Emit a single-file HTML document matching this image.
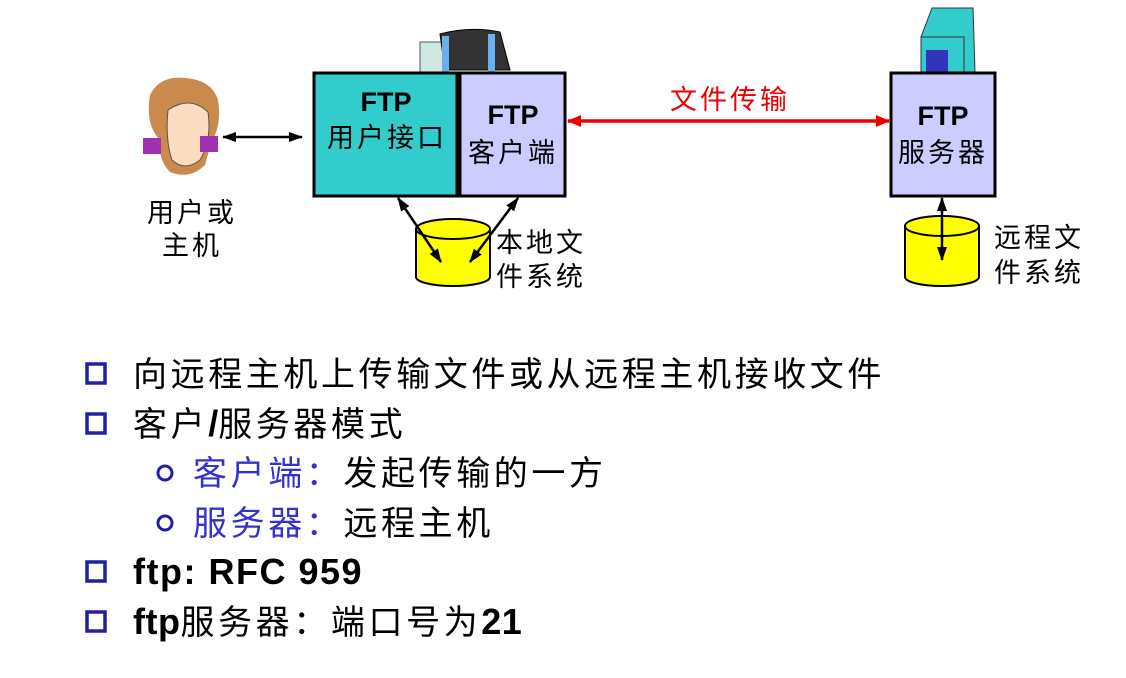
<!DOCTYPE html>
<html><head><meta charset="utf-8"><style>
html,body{margin:0;padding:0;background:#fff;width:1126px;height:678px;overflow:hidden}
svg{display:block}
text{font-family:"Liberation Sans","Noto Sans CJK SC",sans-serif}
</style></head><body>
<svg width="1126" height="678" viewBox="0 0 1126 678" xmlns="http://www.w3.org/2000/svg">
<defs>
<marker id="ak" markerWidth="14" markerHeight="10" refX="13" refY="5" orient="auto-start-reverse" markerUnits="userSpaceOnUse"><path d="M0,0 L14,5 L0,10 z" fill="#000"/></marker>
<marker id="ar" markerWidth="14" markerHeight="12" refX="13" refY="6" orient="auto-start-reverse" markerUnits="userSpaceOnUse"><path d="M0,0 L14,6 L0,12 z" fill="#e00"/></marker>
</defs>
<!-- person -->
<g>
<path d="M150,95 Q160,75 185,78 Q212,80 218,100 Q222,125 212,140 L205,165 Q190,180 170,172 Q158,160 160,140 Q145,125 150,95z" fill="#c98a4b"/>
<path d="M168,110 Q190,95 208,112 Q212,140 200,160 Q185,172 172,160 Q165,140 168,110z" fill="#fbdcc0" stroke="#555" stroke-width="1"/>
<rect x="143" y="138" width="18" height="16" fill="#a030b0"/>
<rect x="200" y="136" width="18" height="16" fill="#a030b0"/>
</g>
<text x="147" y="222" font-size="27" letter-spacing="3">用户或</text>
<text x="162" y="255" font-size="27" letter-spacing="3">主机</text>
<line x1="223" y1="137" x2="302" y2="137" stroke="#000" stroke-width="2.5" marker-start="url(#ak)" marker-end="url(#ak)"/>
<!-- monitor -->
<rect x="420" y="42" width="24" height="32" fill="#cfe8e0" stroke="#557" stroke-width="1"/>
<path d="M440,34 Q470,26 500,32 L510,70 L445,70 z" fill="#333" stroke="#000"/>
<rect x="442" y="36" width="7" height="36" fill="#6ab0f0"/>
<rect x="488" y="34" width="7" height="38" fill="#6ab0f0"/>
<!-- boxes -->
<rect x="314" y="73" width="143" height="123" fill="#33cccc" stroke="#000" stroke-width="3"/>
<rect x="460" y="73" width="105" height="123" fill="#ccccff" stroke="#000" stroke-width="3"/>
<text x="386" y="111" font-size="27" text-anchor="middle" font-weight="bold">FTP</text>
<text x="327" y="147" font-size="27" letter-spacing="3">用户接口</text>
<text x="513" y="124" font-size="27" text-anchor="middle" font-weight="bold">FTP</text>
<text x="468" y="162" font-size="27" letter-spacing="3">客户端</text>
<!-- server tower -->
<path d="M921,37 L932,8 L973,8 L975,72 L964,72 L964,37 z" fill="#33cccc" stroke="#333"/>
<rect x="921" y="37" width="43" height="35" fill="#33cccc" stroke="#333"/>
<rect x="926" y="50" width="22" height="22" fill="#3333bb"/>
<rect x="891" y="73" width="104" height="123" fill="#ccccff" stroke="#000" stroke-width="3"/>
<text x="943" y="125" font-size="27" text-anchor="middle" font-weight="bold">FTP</text>
<text x="898" y="162" font-size="27" letter-spacing="3">服务器</text>
<!-- red arrow -->
<line x1="568" y1="121" x2="889" y2="121" stroke="#e00" stroke-width="3.5" marker-start="url(#ar)" marker-end="url(#ar)"/>
<text x="670" y="109" font-size="27" fill="#e00" letter-spacing="3">文件传输</text>
<!-- local cylinder -->
<path d="M416,229 L416,277 A37,9 0 0 0 490,277 L490,229" fill="#ffff00" stroke="#000" stroke-width="2"/>
<ellipse cx="453" cy="229" rx="37" ry="10" fill="#ffff00" stroke="#000" stroke-width="2"/>
<line x1="398" y1="198" x2="441" y2="262" stroke="#000" stroke-width="2.5" marker-start="url(#ak)" marker-end="url(#ak)"/>
<line x1="518" y1="198" x2="470" y2="262" stroke="#000" stroke-width="2.5" marker-start="url(#ak)" marker-end="url(#ak)"/>
<text x="496" y="252" font-size="27" letter-spacing="3">本地文</text>
<text x="496" y="286" font-size="27" letter-spacing="3">件系统</text>
<!-- remote cylinder -->
<path d="M905,226 L905,277 A37,9 0 0 0 979,277 L979,226" fill="#ffff00" stroke="#000" stroke-width="2"/>
<ellipse cx="942" cy="226" rx="37" ry="10" fill="#ffff00" stroke="#000" stroke-width="2"/>
<line x1="942" y1="198" x2="942" y2="260" stroke="#000" stroke-width="2.5" marker-start="url(#ak)" marker-end="url(#ak)"/>
<text x="994" y="247" font-size="27" letter-spacing="3">远程文</text>
<text x="994" y="282" font-size="27" letter-spacing="3">件系统</text>
<!-- bullets -->
<g fill="none" stroke="#2020a0" stroke-width="3.5">
<rect x="87" y="364" width="18" height="19"/>
<rect x="87" y="414" width="18" height="19"/>
<rect x="87" y="562" width="18" height="19"/>
<rect x="87" y="612" width="18" height="19"/>
<circle cx="165" cy="473" r="7" stroke-width="3"/>
<circle cx="165" cy="523" r="7" stroke-width="3"/>
</g>
<g font-size="34" letter-spacing="3.6">
<text x="133" y="386">向远程主机上传输文件或从远程主机接收文件</text>
<text x="133" y="436">客户<tspan font-size="36" letter-spacing="0" font-weight="bold">/</tspan>服务器模式</text>
<text x="193" y="485"><tspan fill="#3333cc">客户端：</tspan>发起传输的一方</text>
<text x="193" y="535"><tspan fill="#3333cc">服务器：</tspan>远程主机</text>
<text x="133" y="584" font-size="36" letter-spacing="1.5" font-weight="bold">ftp: RFC 959</text>
<text x="133" y="634"><tspan font-size="36" letter-spacing="0.5" font-weight="bold">ftp</tspan>服务器：端口号为<tspan font-size="36" letter-spacing="0.5" font-weight="bold">21</tspan></text>
</g>
</svg>
</body></html>
